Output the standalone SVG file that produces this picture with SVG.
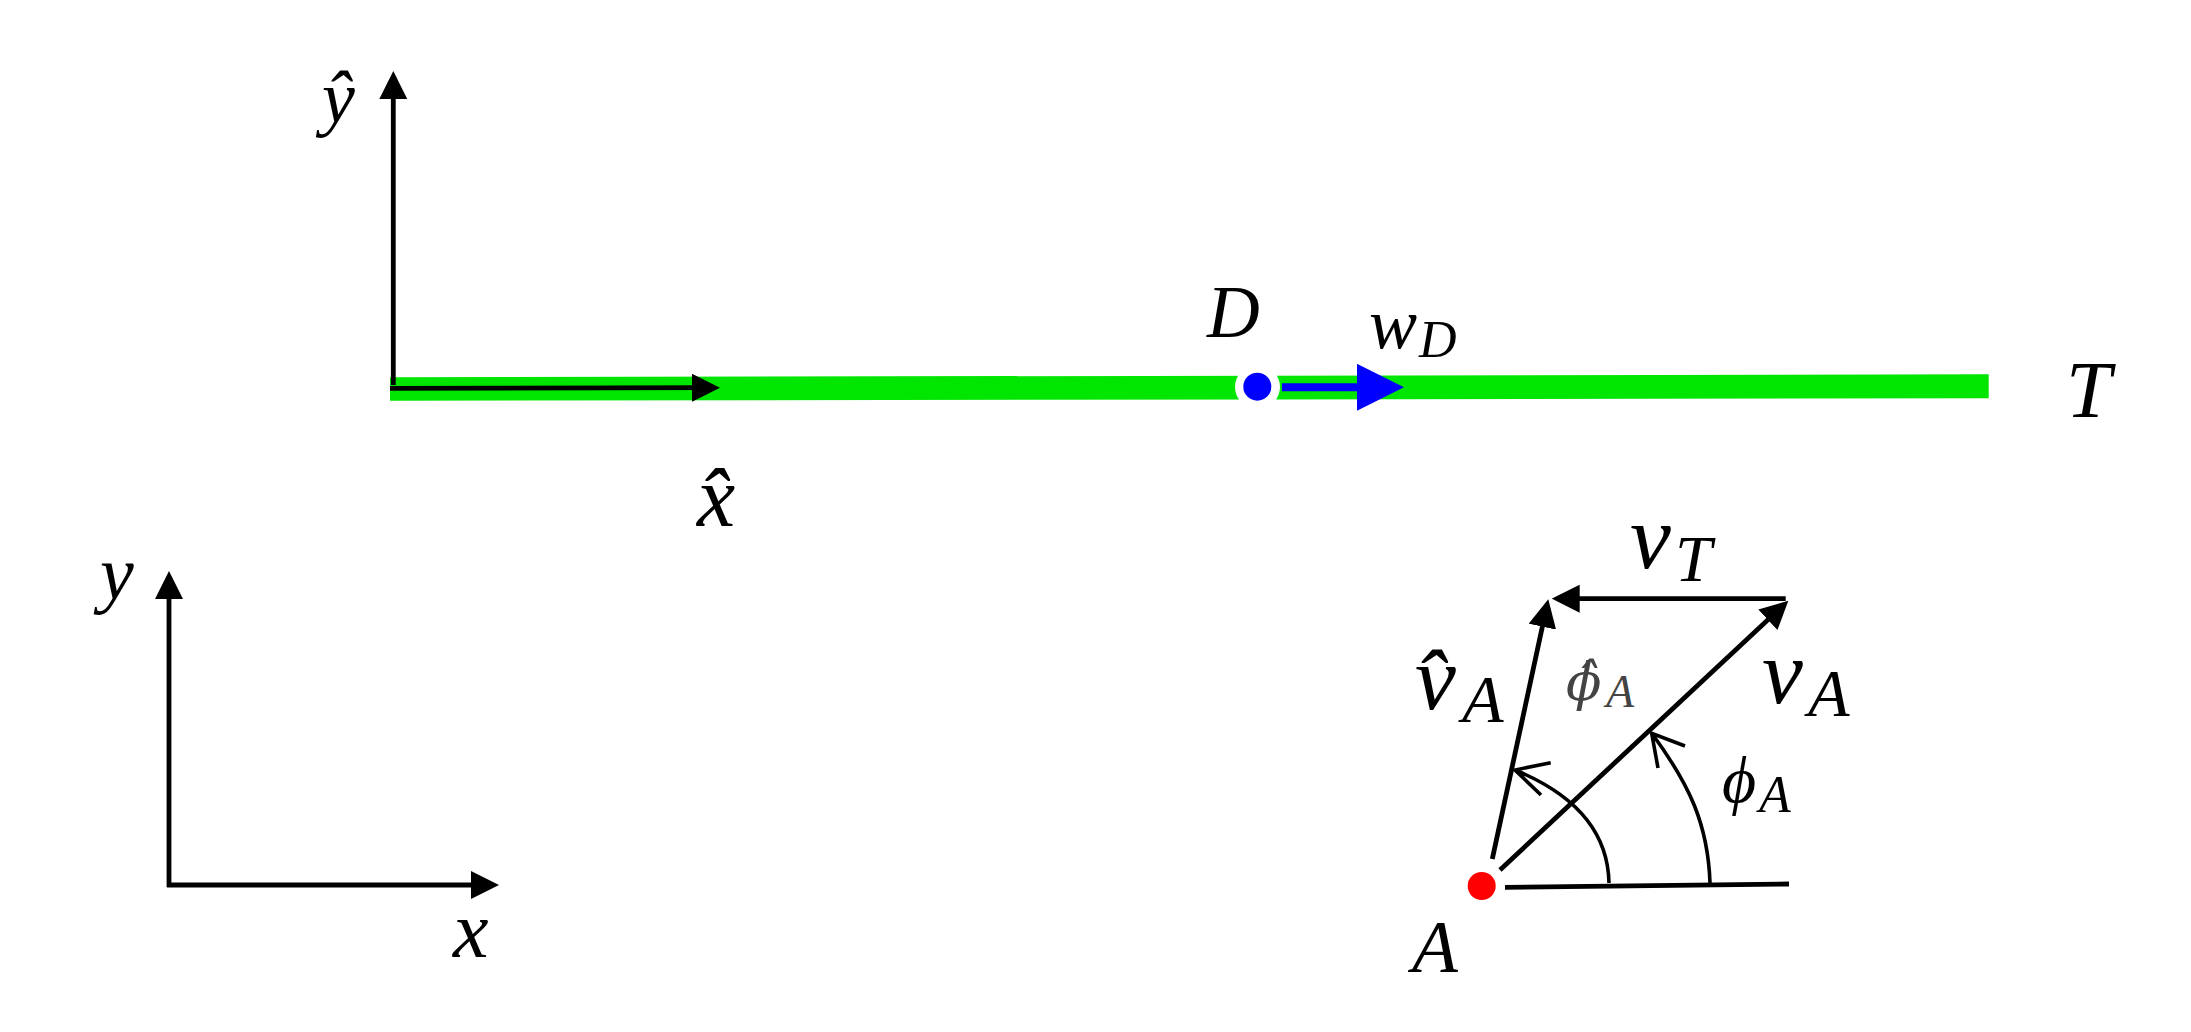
<svg xmlns="http://www.w3.org/2000/svg" width="2191" height="1032" viewBox="0 0 2191 1032">
<style>
text{font-family:"Liberation Serif","DejaVu Serif",serif;font-style:italic;fill:#000}
.ax{fill:none;stroke:#000;stroke-width:4.8}
.arc{fill:none;stroke:#000;stroke-width:3.6}
.s52{font-size:52px}.s68{font-size:68px}.s46{font-size:46px;font-family:"Liberation Serif",serif}.s66{font-size:66px}
</style>
<defs>
<marker id="head" markerUnits="userSpaceOnUse" markerWidth="28" markerHeight="28" refX="20" refY="14" orient="auto"><path d="M0,0L28,14L0,28z" fill="#000"/></marker>
<marker id="bluehead" markerUnits="userSpaceOnUse" markerWidth="47" markerHeight="47" refX="13" refY="23.5" orient="auto"><path d="M0,0L47,23.5L0,47z" fill="#0000ff"/></marker>
</defs>
<rect width="2191" height="1032" fill="#fff"/>
<g id="track-T">
<polygon points="390,377.3 1988.7,374.3 1988.7,398.3 390,400.7" fill="#00e600"/>
<text x="2066" y="417" font-size="81">T</text>
</g>
<g id="connectors">
<line class="ax" x1="393.3" y1="385" x2="393.3" y2="79" marker-end="url(#head)"/>
<line class="ax" x1="390" y1="388.3" x2="712" y2="387.7" marker-end="url(#head)"/>
<line class="ax" x1="169" y1="887" x2="169" y2="579" marker-end="url(#head)"/>
<line class="ax" x1="167" y1="885" x2="491" y2="885" marker-end="url(#head)"/>
<line class="ax" x1="1505" y1="887.3" x2="1789" y2="884"/>
<line class="ax" x1="1500" y1="870" x2="1782.5" y2="606.2" marker-end="url(#head)"/>
<line class="ax" x1="1492.3" y1="859" x2="1546.6" y2="607.1" marker-end="url(#head)"/>
<line class="ax" x1="1785.7" y1="598.7" x2="1559.7" y2="598.7" marker-end="url(#head)"/>
<path class="arc" d="M1609,883C1608,832 1576,795 1515,770M1550.7,762.7L1515,770L1541,795"/>
<path class="arc" d="M1710,883C1708,825 1690,785 1651.7,733.3M1685,746L1651.7,733.3L1658,768"/>
</g>
<g id="node-D">
<circle cx="1257.5" cy="387" r="22.5" fill="#fff"/>
<circle cx="1257.3" cy="386.7" r="14" fill="#0000ff"/>
<text x="1207" y="337" font-size="73">D</text>
</g>
<g id="arrow-wD">
<line x1="1282" y1="387.3" x2="1370" y2="387.3" stroke="#0000ff" stroke-width="8" marker-end="url(#bluehead)"/>
<text x="1369" y="348" font-size="72">w<tspan class="s52" x="1419" y="357">D</tspan></text>
</g>
<g id="node-A">
<circle cx="1481.7" cy="886" r="14" fill="#ff0000"/>
<text x="1412" y="972" font-size="75">A</text>
</g>
<g id="labels">
<text x="322" y="122" font-size="74">ŷ</text>
<text x="697" y="526" font-size="86">x̂</text>
<text x="100" y="599" font-size="76">y</text>
<text x="453" y="957" font-size="80">x</text>
<text x="1630" y="568" font-size="92">v<tspan class="s66" x="1675" y="581">T</tspan></text>
<text x="1415" y="709" font-size="92">v̂<tspan class="s68" x="1462" y="722">A</tspan></text>
<text x="1762" y="703" font-size="92">v<tspan class="s68" x="1808" y="716">A</tspan></text>
<text x="1722" y="802" font-size="66">ϕ<tspan class="s52" x="1759" y="812">A</tspan></text>
<text x="1566" y="700" font-size="52" style="fill:#444;font-family:'DejaVu Serif',serif">ϕ̂<tspan class="s46" x="1606" y="707">A</tspan></text>
</g>
</svg>
